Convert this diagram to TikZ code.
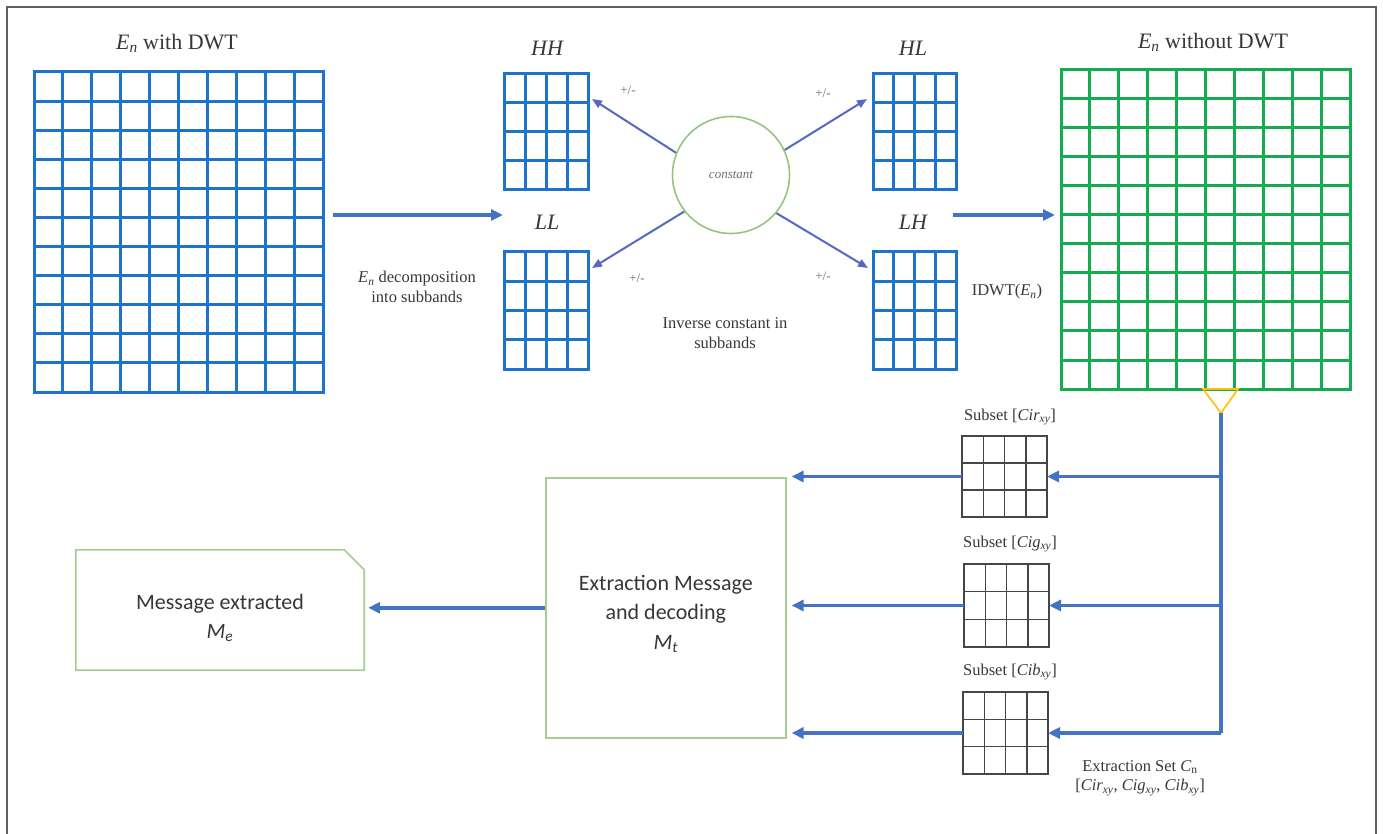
\documentclass[tikz,border=0pt]{standalone}
\usepackage{fontspec}
\setmainfont{Liberation Serif}
\newfontfamily\carl{Carlito}
\usetikzlibrary{arrows.meta,calc}
\definecolor{gridblue}{RGB}{30,115,205}
\definecolor{arrowblue}{RGB}{68,114,196}
\definecolor{diagblue}{RGB}{85,105,190}
\definecolor{gridgreen}{RGB}{20,172,80}
\definecolor{cgreen}{RGB}{150,195,125}
\definecolor{boxgreen}{RGB}{165,205,140}
\definecolor{subgray}{RGB}{70,70,70}
\definecolor{triyellow}{RGB}{255,192,0}
\definecolor{framegray}{RGB}{95,95,95}
\definecolor{txtgray}{RGB}{55,55,55}
\definecolor{lightgray}{RGB}{110,110,110}
\newcommand\Enn{\textit{E}\textsubscript{\textit{n}}}
\newcommand\sx[2]{\textit{#1}\textsubscript{\textit{#2}}}
\newcommand\mkgrid[8]{%
  \node[#2,minimum width=#5pt,minimum height=#6pt,anchor=north west,inner sep=0pt,outer sep=0pt] (#1) at (#3,#4) {};
  \pgfmathtruncatemacro\gcm{#7-1}%
  \pgfmathtruncatemacro\grm{#8-1}%
  \foreach \i in {1,...,\gcm}{\draw[#2] ($(#1.north west)!\i/#7!(#1.north east)$) -- ($(#1.south west)!\i/#7!(#1.south east)$);}%
  \foreach \j in {1,...,\grm}{\draw[#2] ($(#1.north west)!\j/#8!(#1.south west)$) -- ($(#1.north east)!\j/#8!(#1.south east)$);}%
}
\tikzset{
  bluegrid/.style={draw=gridblue,line width=3pt},
  greengrid/.style={draw=gridgreen,line width=3pt},
  subgrid/.style={draw=subgray,line width=1.5pt},
  bigarrow/.style={draw=arrowblue,line width=3.4pt,-{Triangle[length=12pt,width=11pt]}},
  blueline/.style={draw=arrowblue,line width=3.4pt},
  diagarrow/.style={draw=diagblue,line width=2pt,-{Triangle[length=10pt,width=8pt]}},
  title/.style={font=\fontsize{22}{26}\selectfont,text=txtgray},
  lab/.style={font=\fontsize{16.5}{19.5}\selectfont,text=txtgray,align=center},
  pm/.style={font=\fontsize{13}{15}\selectfont,text=lightgray},
  sans/.style={font=\carl\fontsize{22}{29.5}\selectfont,text=txtgray,align=center},
  greenbox/.style={draw=boxgreen,line width=1.6pt},
}
\begin{document}
\begin{tikzpicture}[x=1pt,y=-1pt]
\useasboundingbox (0,0) rectangle (1383,834);
% frame
\draw[framegray,line width=2pt] (7,834) -- (7,7) -- (1376,7) -- (1376,834);
% grids
\mkgrid{big}{bluegrid}{34}{72}{289}{320}{10}{11}
\mkgrid{HH}{bluegrid}{504}{74}{84}{116}{4}{4}
\mkgrid{LL}{bluegrid}{504}{252}{84}{117}{4}{4}
\mkgrid{HL}{bluegrid}{873}{74}{83}{116}{4}{4}
\mkgrid{LH}{bluegrid}{873}{252}{83}{117}{4}{4}
\mkgrid{green}{greengrid}{1061}{70}{289}{319}{10}{11}
\mkgrid{cir}{subgrid}{962}{436}{85}{81}{4}{3}
\mkgrid{cig}{subgrid}{964}{564}{85}{83}{4}{3}
\mkgrid{cib}{subgrid}{963}{692}{85}{82}{4}{3}
% titles
\node[title] (tbig) at (177,43) {\Enn{} with DWT};
\node[title] (tgreen) at (1213,42) {\Enn{} without DWT};
\node[title,font=\fontsize{22}{26}\selectfont\itshape] (tHH) at (547,48) {HH};
\node[title,font=\fontsize{22}{26}\selectfont\itshape] (tLL) at (547,222) {LL};
\node[title,font=\fontsize{22}{26}\selectfont\itshape] (tHL) at (913,48) {HL};
\node[title,font=\fontsize{22}{26}\selectfont\itshape] (tLH) at (913,222) {LH};
% constant circle
\node[circle,draw=cgreen,line width=1.6pt,minimum size=117pt,inner sep=0pt,
      font=\fontsize{13}{15}\selectfont\itshape,text=lightgray] (const) at (731,175) {constant};
\draw[diagarrow] (const.158) -- ($(HH.north east)+(4,25)$);
\draw[diagarrow] (const.218) -- ($(LL.north east)+(4,16)$);
\draw[diagarrow] (const.25) -- ($(HL.north west)+(-6,25)$);
\draw[diagarrow] (const.320) -- ($(LH.north west)+(-5,16)$);
\node[pm] (pm1) at (628,90) {+/-};
\node[pm] (pm2) at (637,278) {+/-};
\node[pm] (pm3) at (823,93) {+/-};
\node[pm] (pm4) at (823,276) {+/-};
% main arrows
\coordinate (a1s) at (333,215);
\coordinate (a1e) at (503,215);
\draw[bigarrow] (a1s) -- (a1e);
\coordinate (a2s) at (953,215);
\coordinate (a2e) at (1055,215);
\draw[bigarrow] (a2s) -- (a2e);
\node[lab] (dec) at (417,287) {\Enn{} decomposition\\into subbands};
\node[lab] (inv) at (725,333) {Inverse constant in\\subbands};
\node[lab] (idwt) at (1007,292) {IDWT(\Enn)};
% yellow triangle and distribution line
\draw[triyellow,line width=1.6pt,line join=miter] (1203,389) -- (1238,389) -- (1221,413) -- cycle;
\coordinate (tip) at (1221,413);
\draw[blueline] (tip) -- (tip |- cib.east);
\draw[bigarrow] (tip |- cir.east) -- (cir.east);
\draw[bigarrow] (tip |- cig.east) -- (cig.east);
\draw[bigarrow] (tip |- cib.east) -- (cib.east);
\node[lab] (lcir) at (1010,417) {Subset [\sx{Cir}{xy}]};
\node[lab] (lcig) at (1010,544) {Subset [\sx{Cig}{xy}]};
\node[lab] (lcib) at (1010,672) {Subset [\sx{Cib}{xy}]};
\node[lab] (lset) at (1140,778) {Extraction Set \textit{C}\textsubscript{n}\\{}[\sx{Cir}{xy}, \sx{Cig}{xy}, \sx{Cib}{xy}]};
% extraction box
\node[greenbox,minimum width=240pt,minimum height=260pt,anchor=north west,inner sep=0pt] (ext) at (545,477) {};
\node[sans] (extT) at ($(ext.center)+(0,6)$) {Extraction Message\\and decoding\\\textit{M}\textsubscript{\textit{t}}};
\draw[bigarrow,shorten >=5pt] (cir.west) -- (cir.west -| ext.east);
\draw[bigarrow,shorten >=5pt] (cig.west) -- (cig.west -| ext.east);
\draw[bigarrow,shorten >=5pt] (cib.west) -- (cib.west -| ext.east);
% message box
\node[minimum width=288pt,minimum height=120pt,inner sep=0pt] (msg) at (220,610) {};
\node[sans] (msgT) at ($(msg.center)+(0,8)$) {Message extracted\\\textit{M}\textsubscript{\textit{e}}};
\draw[greenbox] (msg.south west) -- (msg.north west) -- ($(msg.north east)+(-20,0)$)
  -- ($(msg.north east)+(0,20)$) -- (msg.south east) -- cycle;
\draw[bigarrow,shorten >=4pt] (ext.west) -- (ext.west -| msg.east);
\end{tikzpicture}
\end{document}
